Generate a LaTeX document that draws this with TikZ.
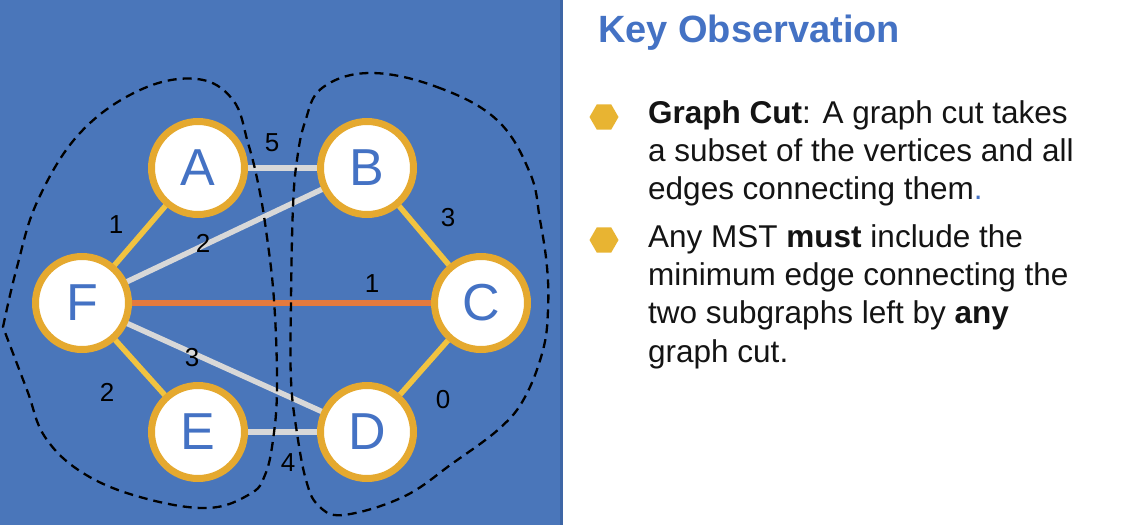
\documentclass[tikz,border=0pt]{standalone}
\usepackage{fontspec}
\setmainfont{Liberation Sans}
\usetikzlibrary{shapes.geometric}
\definecolor{panelblue}{HTML}{4A76BA}
\definecolor{paneledge}{HTML}{3E66A6}
\definecolor{ringorange}{HTML}{E5A92F}
\definecolor{letterblue}{HTML}{4472C4}
\definecolor{edgeyellow}{HTML}{F1C340}
\definecolor{edgegray}{HTML}{D8D8D8}
\definecolor{edgeorange}{HTML}{E47A3E}
\definecolor{hexyellow}{HTML}{E8B432}
\definecolor{txt}{HTML}{141414}
\pgfdeclarelayer{bg0}
\pgfdeclarelayer{bg1}
\pgfsetlayers{bg0,bg1,main}
\tikzset{
  vertex/.style={circle, draw=ringorange, line width=7pt, fill=white, minimum size=93pt, inner sep=0pt,
    text=letterblue, font=\fontsize{52}{60}\selectfont},
  wlabel/.style={inner sep=0pt, text=black, font=\fontsize{26}{30}\selectfont},
  yedge/.style={edgeyellow, line width=5.5pt},
  gedge/.style={edgegray, line width=5.5pt},
  oedge/.style={edgeorange, line width=5.5pt},
  cutline/.style={black, line width=2.3pt, dash pattern=on 9pt off 6pt},
  hexbullet/.style={regular polygon, regular polygon sides=6, fill=hexyellow, minimum size=29pt, inner sep=0pt},
  bodytext/.style={anchor=north west, inner sep=0pt, align=left, text=txt,
    font=\fontsize{31.5}{38.4}\selectfont},
}
\begin{document}
\begin{tikzpicture}[x=1pt,y=-1pt]
\useasboundingbox (0,0) rectangle (1148,525);
\begin{pgfonlayer}{bg0}
  \fill[white] (0,0) rectangle (1148,525);
  \fill[panelblue] (0,0) rectangle (563,525);
  \fill[paneledge] (560,0) rectangle (563,525);
\end{pgfonlayer}

% vertices
\node[vertex] (A) at (198,168) {A};
\node[vertex] (B) at (367,168) {B};
\node[vertex] (F) at (82,303) {F};
\node[vertex] (C) at (481,303) {C};
\node[vertex] (E) at (198,432) {E};
\node[vertex] (D) at (367,432) {D};

% edges
\begin{pgfonlayer}{bg1}
  \draw[gedge] (A.center) -- (B.center);
  \draw[gedge] (F.center) -- (B.center);
  \draw[gedge] (F.center) -- (D.center);
  \draw[gedge] (E.center) -- (D.center);
  \draw[yedge] (F.center) -- (A.center);
  \draw[yedge] (F.center) -- (E.center);
  \draw[yedge] (B.center) -- (C.center);
  \draw[yedge] (C.center) -- (D.center);
  \draw[oedge] (F.center) -- (C.center);
\end{pgfonlayer}

% weights
\node[wlabel] (w5) at (272,143) {5};
\node[wlabel] (wfb) at (203,243) {2};
\node[wlabel] (wfc) at (372,284) {1};
\node[wlabel] (wfa) at (116,225) {1};
\node[wlabel] (wfd) at (192,358) {3};
\node[wlabel] (wfe) at (107,392) {2};
\node[wlabel] (wbc) at (448,218) {3};
\node[wlabel] (wcd) at (443,400) {0};
\node[wlabel] (wed) at (288,463) {4};

% cut regions
\draw[cutline] plot[smooth, tension=0.65] coordinates {
  (3,327) (17,267) (38,200) (80,133) (140,90) (197,79) (233,100) (248,143)
  (258,183) (266,230) (274,300) (277,387) (273,440) (265,475) (250,494)
  (207,508) (140,497) (83,473) (45,437) (27,390) (3,327)};
\draw[cutline] plot[smooth cycle, tension=0.65] coordinates {
  (370,73) (437,87) (497,120) (530,173) (540,220) (547,267) (548,310)
  (543,350) (525,397) (500,428) (453,463) (403,497) (343,515) (318,505)
  (306,480) (297,433) (291,380) (291,300) (293,207) (297,160) (305,122) (322,88)};

% right text
\node[anchor=base west, inner sep=0pt, text=letterblue, font=\fontsize{38}{44}\bfseries\selectfont] (title) at (598,42) {Key Observation};
\node[hexbullet] (h1) at (604,117) {};
\node[hexbullet] (h2) at (604,240) {};
\node[bodytext] (t1) at (648,100) {\textbf{Graph Cut}: A graph cut takes\\a subset of the vertices and all\\edges connecting them{\color{letterblue}.}};
\node[bodytext] (t2) at (648,224) {Any MST \textbf{must} include the\\minimum edge connecting the\\two subgraphs left by \textbf{any}\\graph cut.};
\end{tikzpicture}
\end{document}
